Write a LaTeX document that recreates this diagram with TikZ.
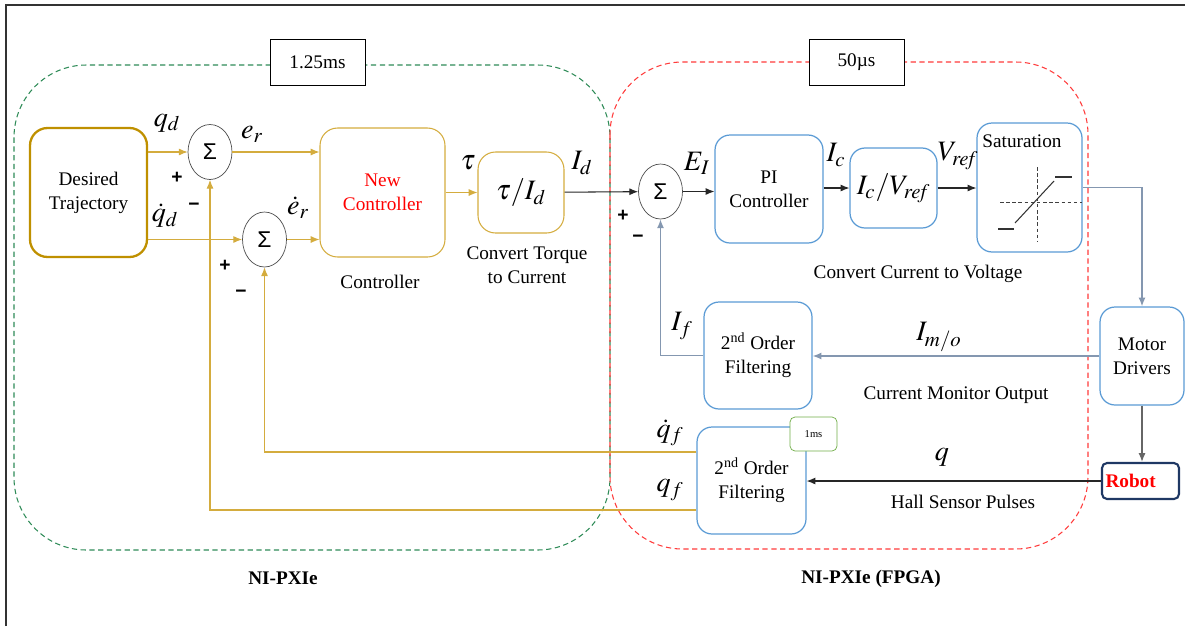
\documentclass[tikz,border=0pt,11pt]{standalone}
\usepackage{mathptmx}
\usepackage[no-math]{fontspec}
\setmainfont{Liberation Serif}
\newfontfamily\sigmafont{Liberation Sans}
\usetikzlibrary{arrows.meta,shapes.geometric}

\definecolor{goldline}{HTML}{D4AC3E}
\definecolor{golddark}{HTML}{BF9000}
\definecolor{boxblue}{HTML}{5B9BD5}
\definecolor{linkgray}{HTML}{8497B0}
\definecolor{zonegreen}{HTML}{2E8B57}
\definecolor{zonered}{HTML}{FF3B3B}
\definecolor{robotnavy}{HTML}{1F3864}
\definecolor{msgreen}{HTML}{70AD47}

\tikzset{
	goldbox/.style={draw=goldline, rounded corners=0.35cm, align=center, line width=0.6pt},
	bluebox/.style={draw=boxblue, fill=white, rounded corners=0.3cm, align=center, line width=0.7pt},
	sumnode/.style={draw=black!70, ellipse, inner sep=0pt, minimum width=0.88cm, minimum height=1.1cm, font=\sigmafont\fontsize{13}{15}\selectfont},
	timebox/.style={draw, fill=white, minimum width=1.9cm, minimum height=0.92cm},
	robotbox/.style={draw=robotnavy, line width=1.2pt, rounded corners=0.1cm, text=red, font=\bfseries, text width=1.4cm, inner xsep=0.07cm, minimum height=0.72cm, align=left},
	msbox/.style={draw=msgreen, fill=white, rounded corners=0.1cm, minimum width=0.94cm, minimum height=0.68cm, font=\fontsize{6}{7}\selectfont},
	zone/.style={dashed, dash pattern=on 3pt off 2pt, line width=0.6pt, rounded corners=1.45cm},
	mlabel/.style={font=\fontsize{16}{18}\selectfont, inner sep=0pt},
	sign/.style={font=\sigmafont\bfseries, inner sep=0pt},
	satline/.style={black!75, dash pattern=on 2pt off 1.5pt, line width=0.5pt},
	goldarrow/.style={draw=goldline, line width=0.6pt, -{Latex[length=5pt,width=4pt]}},
	blackarrow/.style={draw=black!85, line width=0.6pt, -{Latex[length=5pt,width=4pt]}},
	grayarrow/.style={draw=linkgray, line width=0.8pt, -{Latex[length=5pt,width=4pt]}}
}

\begin{document}
\begin{tikzpicture}[x=0.02cm, y=-0.02cm]

	\useasboundingbox (0,0) rectangle (1185,626);
	\draw[black!80, line width=0.8pt] (6,626) -- (6,5) -- (1185,5);

	\draw[zone, zonegreen] (14,65) rectangle (610,550);
	\draw[zone, zonered] (610,62) rectangle (1088,549);

	\node[timebox] (t1) at (317.5,62) {1.25ms};
	\node[timebox] (t2) at (856.5,62) {50µs};

	\node[goldbox, draw=golddark, line width=1.3pt, minimum width=2.34cm, minimum height=2.58cm] (traj) at (88.5,192.5) {Desired\\Trajectory};
	\node[sumnode] (sum1) at (210,152) {Σ};
	\node[sumnode] (sum2) at (264.5,239.5) {Σ};
	\node[goldbox, text=red, minimum width=2.5cm, minimum height=2.58cm] (ctrl) at (382.5,192.5) {New\\Controller};
	\node[goldbox, minimum width=1.72cm, minimum height=1.62cm, font=\fontsize{16}{18}\selectfont] (tauid) at (521,192.5) {$\tau/I_d$};

	\node[sumnode] (sum3) at (660.5,191.5) {Σ};
	\node[bluebox, minimum width=2.16cm, minimum height=2.16cm] (pi) at (769,189) {PI\\Controller};
	\node[bluebox, minimum width=1.74cm, minimum height=1.6cm, font=\fontsize{16}{18}\selectfont] (icv) at (893.5,188) {$I_c/V_{\mathit{ref}}$};
	\node[bluebox, minimum width=2.1cm, minimum height=2.58cm, label={[below=3pt, xshift=-0.15cm]north:Saturation}] (sat) at (1029.5,187.5) {};
	\node[bluebox, minimum width=1.68cm, minimum height=1.96cm] (motor) at (1142,356) {Motor\\Drivers};
	\node[robotbox] (robot) at (1140.5,481) {Robot};
	\node[bluebox, minimum width=2.16cm, minimum height=2.14cm] (filt1) at (758,355.5) {2\textsuperscript{nd} Order\\Filtering};
	\node[bluebox, minimum width=2.18cm, minimum height=2.14cm] (filt2) at (751.5,480.5) {2\textsuperscript{nd} Order\\Filtering};
	\node[msbox] (ms) at (813.5,434) {1ms};

	\draw[satline] (1037,167) -- (1037,242);
	\draw[satline] (1000,202) -- (1082,202);
	\draw[black!80, line width=0.6pt] (998,229) -- (1014,229);
	\draw[black!80, line width=0.6pt] (1015,223) -- (1054,181);
	\draw[black!80, line width=0.6pt] (1055,177) -- (1072,177);

	\draw[goldarrow] (traj.east |- sum1) -- (sum1);
	\draw[goldarrow] (traj.east |- sum2) -- (sum2);
	\draw[goldarrow] (sum1) -- (ctrl.west |- sum1);
	\draw[goldarrow] (sum2) -- (ctrl.west |- sum2);
	\draw[goldarrow] (ctrl) -- (tauid);
	\draw[blackarrow] (tauid) -- (sum3);
	\draw[blackarrow] (sum3.east) -- (pi.west |- sum3.east);
	\draw[blackarrow] (pi.east |- icv) -- (icv);
	\draw[blackarrow] (icv) -- (sat.west |- icv);
	\draw[grayarrow] (sat.east) -| (motor.north);
	\draw[grayarrow, draw=black!60] (motor.south) -- (motor.south |- robot.north);
	\draw[grayarrow] (motor.west) -- (filt1.east |- motor.west);
	\draw[grayarrow] (filt1.west) -| (sum3.south);
	\draw[blackarrow] (robot.west) -- (filt2.east |- robot.west);
	\draw[goldarrow] ([yshift=0.57cm]filt2.west) -| (sum2.south);
	\draw[goldarrow] ([yshift=-0.59cm]filt2.west) -| (sum1.south);

	\node[mlabel] (qd) at (167,123) {$q_d$};
	\node[mlabel] (qdotd) at (165,216) {$\dot{q}_d$};
	\node[mlabel] (er) at (252,134) {$e_r$};
	\node[mlabel] (erdot) at (298,208) {$\dot{e}_r$};
	\node[mlabel] (tau) at (468,163) {$\tau$};
	\node[mlabel] (id) at (582,163) {$I_d$};
	\node[mlabel] (ei) at (697,163) {$E_I$};
	\node[mlabel] (ic) at (836,155) {$I_c$};
	\node[mlabel] (vref) at (958,156) {$V_{\mathit{ref}}$};
	\node[mlabel] (if) at (682,326) {$I_f$};
	\node[mlabel] (imo) at (939,337) {$I_{m/o}$};
	\node[mlabel] (qdotf) at (670,433) {$\dot{q}_f$};
	\node[mlabel] (qf) at (670,490) {$q_f$};
	\node[mlabel] (q) at (942,457) {$q$};

	\node[sign] (p1) at (177,178) {+};
	\node[sign] (m1) at (194,207) {−};
	\node[sign] (p2) at (225,266) {+};
	\node[sign] (m2) at (241,294) {−};
	\node[sign] (p3) at (623,216) {+};
	\node[sign] (m3) at (638,239) {−};

	\node (ctrlcap) at (380,282) {Controller};
	\node[align=center] (tauidcap) at (527,265) {Convert Torque\\to Current};
	\node (icvcap) at (918,274) {Convert Current to Voltage};
	\node (imocap) at (956,395) {Current Monitor Output};
	\node (qcap) at (963,502) {Hall Sensor Pulses};
	\node[font=\bfseries] (pxi) at (283,578) {NI-PXIe};
	\node[font=\bfseries] (fpga) at (871,579) {NI-PXIe (FPGA)};

\end{tikzpicture}
\end{document}
